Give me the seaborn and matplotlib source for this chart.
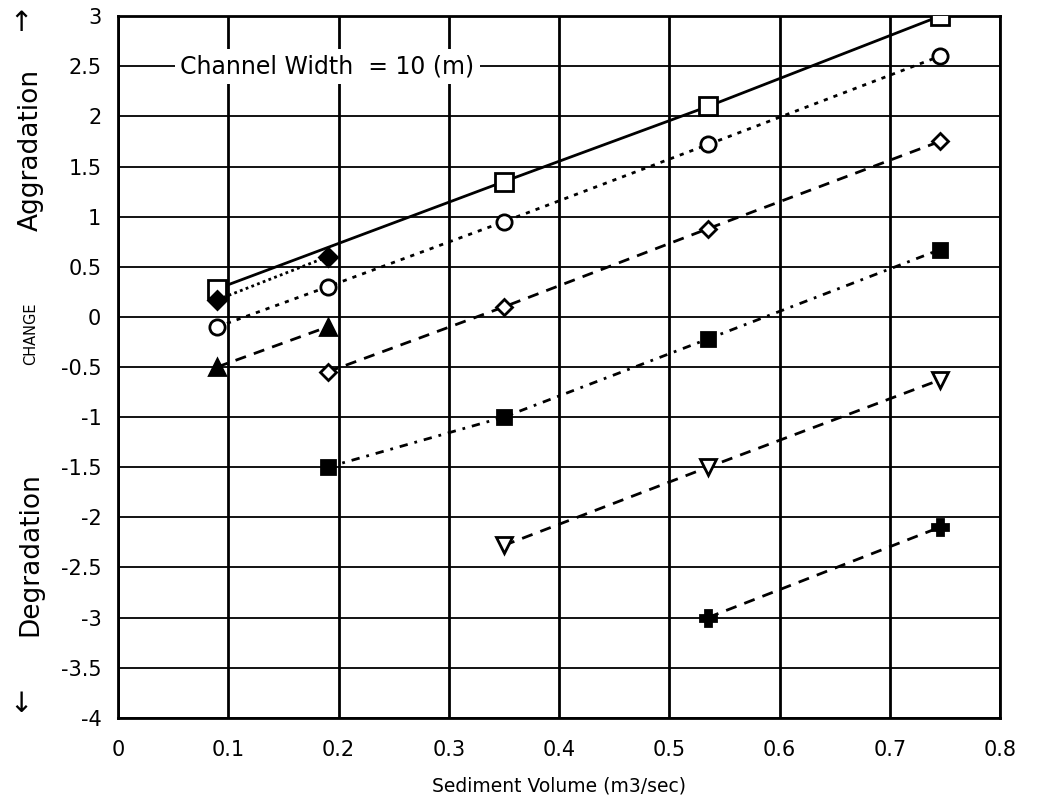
import numpy as np
import pandas as pd
import seaborn as sns
import matplotlib
matplotlib.use('Agg')
import matplotlib.pyplot as plt

# data (sediment volume, change)
sq_x = [0.09, 0.35, 0.535, 0.745]
sq_y = [0.28, 1.35, 2.1, 3.0]
circ_x = [0.09, 0.19, 0.35, 0.535, 0.745]
circ_y = [-0.1, 0.3, 0.95, 1.72, 2.6]
dia_x = [0.19, 0.35, 0.535, 0.745]
dia_y = [-0.55, 0.1, 0.88, 1.75]
fsq_x = [0.19, 0.35, 0.535, 0.745]
fsq_y = [-1.5, -1.0, -0.22, 0.67]
tri_x = [0.35, 0.535, 0.745]
tri_y = [-2.28, -1.5, -0.63]
plus_x = [0.535, 0.745]
plus_y = [-3.0, -2.1]
fdia_x = [0.09, 0.19]
fdia_y = [0.17, 0.6]
ftri_x = [0.09, 0.19]
ftri_y = [-0.5, -0.1]

xticks = [0, 0.1, 0.2, 0.3, 0.4, 0.5, 0.6, 0.7, 0.8]
yticks = [3, 2.5, 2, 1.5, 1, 0.5, 0, -0.5, -1, -1.5, -2, -2.5, -3, -3.5, -4]

sns.set_style('white')
plt.rcParams['font.family'] = ['DejaVu Sans']
plt.rcParams['text.color'] = 'black'
plt.rcParams['axes.labelcolor'] = 'black'
plt.rcParams['xtick.color'] = 'black'
plt.rcParams['ytick.color'] = 'black'

fig = plt.figure(figsize=(10.63, 8.11), dpi=100)
ax = fig.add_axes([0.111, 0.115, 0.830, 0.865])

# name, x, y, marker, filled, linestyle, size
series = [
    ('sq', sq_x, sq_y, 's', False, '-', 13),
    ('circ', circ_x, circ_y, 'o', False, (0, (1.5, 2.2)), 11),
    ('dia', dia_x, dia_y, 'D', False, (0, (4, 3)), 8.5),
    ('fsq', fsq_x, fsq_y, 's', True, (0, (3, 2.5, 1, 2.5)), 10),
    ('tri', tri_x, tri_y, 'v', False, (0, (4, 3)), 12),
    ('plus', plus_x, plus_y, 'P', True, (0, (4, 3)), 11),
    ('fdia', fdia_x, fdia_y, 'D', True, (0, (1, 1.2)), 9),
    ('ftri', ftri_x, ftri_y, '^', True, (0, (4, 3)), 11),
]

for name, xs, ys, mk, filled, ls, ms in series:
    df = pd.DataFrame({'x': xs, 'y': ys})
    sns.lineplot(data=df, x='x', y='y', ax=ax, color='black', linewidth=2.0,
                 linestyle=ls, marker=mk, markersize=ms,
                 markerfacecolor='black' if filled else 'white',
                 markeredgecolor='black', markeredgewidth=2.0, zorder=3)

ax.set_xlim(0, 0.8)
ax.set_ylim(-4, 3)
ax.set_xticks(xticks)
ax.set_xticklabels(['0' if v == 0 else f'{v:g}' for v in xticks], fontsize=15)
ax.set_yticks(yticks)
ax.set_yticklabels([f'{v:g}' for v in yticks], fontsize=15)
ax.tick_params(axis='y', length=8, width=1.2, direction='out', pad=4)
ax.tick_params(axis='x', length=0, pad=16)
ax.grid(True, color='black', linewidth=1.3)
ax.xaxis.grid(True, linewidth=2.0)
ax.set_axisbelow(True)
for s in ax.spines.values():
    s.set_color('black')
    s.set_linewidth(2.0)
ax.set_xlabel('Sediment Volume (m3/sec)', fontsize=13.5, labelpad=12)
ax.set_ylabel('')

ax.text(0.19, 2.5, 'Channel Width  = 10 (m)', fontsize=17, ha='center', va='center',
        bbox=dict(facecolor='white', edgecolor='none', pad=4), zorder=4)

fig.text(0.020, 0.972, '\u2191', fontsize=20, ha='center', va='center')
fig.text(0.029, 0.815, 'Aggradation', fontsize=19, rotation=90, ha='center', va='center')
fig.text(0.029, 0.588, 'CHANGE', fontsize=10.5, rotation=90, ha='center', va='center')
fig.text(0.029, 0.317, 'Degradation', fontsize=19, rotation=90, ha='center', va='center')
fig.text(0.020, 0.132, '\u2193', fontsize=20, ha='center', va='center')

fig.savefig('out.png', dpi=100)
